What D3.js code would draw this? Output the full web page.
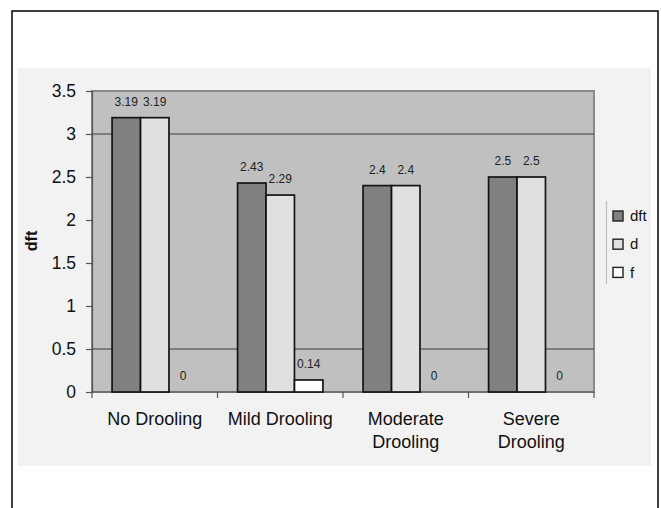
<!DOCTYPE html>
<html>
<head>
<meta charset="utf-8">
<script src="https://cdn.jsdelivr.net/npm/d3@7/dist/d3.min.js"></script>
<style>
  html, body { margin: 0; padding: 0; background: #ffffff; }
  svg { display: block; font-family: "Liberation Sans", Arial, sans-serif; }
</style>
</head>
<body>
<svg id="chart" width="661" height="508"></svg>
<script>
// Drooling severity groups and the three dft index components
const categories = [["No Drooling"], ["Mild Drooling"], ["Moderate", "Drooling"], ["Severe", "Drooling"]];
const seriesNames = ["dft", "d", "f"];
const dftValues = [3.19, 2.43, 2.4, 2.5];
const dValues = [3.19, 2.29, 2.4, 2.5];
const fValues = [0, 0.14, 0, 0];
const yTicks = [0, 0.5, 1, 1.5, 2, 2.5, 3, 3.5];
const gridValues = [0.5, 3];
const seriesColors = ["#808080", "#e0e0e0", "#ffffff"];

const seriesValues = [dftValues, dValues, fValues];
const catKeys = categories.map(c => c.join(" "));

const svg = d3.select("#chart");

// Outer frame and chart area
svg.append("rect").attr("x", 12).attr("y", 11).attr("width", 646).attr("height", 520)
  .attr("fill", "#ffffff").attr("stroke", "#111").attr("stroke-width", 1.6);
svg.append("rect").attr("x", 18).attr("y", 68).attr("width", 633).attr("height", 398)
  .attr("fill", "#f2f2f2");

const plot = { left: 92, right: 594, top: 91, bottom: 392 };

const x0 = d3.scaleBand().domain(catKeys).range([plot.left, plot.right]).paddingInner(0).paddingOuter(0);
const x1 = d3.scaleBand().domain(seriesNames)
  .range([x0.bandwidth() * 0.16, x0.bandwidth() * 0.84]).padding(0);
const y = d3.scaleLinear().domain([0, 3.5]).range([plot.bottom, plot.top]);

// Plot area
svg.append("rect").attr("x", plot.left).attr("y", plot.top)
  .attr("width", plot.right - plot.left).attr("height", plot.bottom - plot.top)
  .attr("fill", "#c0c0c0").attr("stroke", "#8a8a8a").attr("stroke-width", 2);

// Gridlines
svg.append("g").selectAll("line").data(gridValues).join("line")
  .attr("x1", plot.left).attr("x2", plot.right)
  .attr("y1", d => y(d)).attr("y2", d => y(d))
  .attr("stroke", "#3a3a3a").attr("stroke-width", 1.2);

// Y axis
const yAxis = svg.append("g").attr("transform", `translate(${plot.left},0)`)
  .call(d3.axisLeft(y).tickValues(yTicks).tickSize(6).tickPadding(10).tickFormat(d3.format("")));
yAxis.select(".domain").attr("stroke", "#555").attr("stroke-width", 1.2);
yAxis.selectAll(".tick line").attr("stroke", "#555").attr("stroke-width", 1.2);
yAxis.selectAll(".tick text").attr("font-size", 17.5).attr("fill", "#111")
  .attr("font-family", "'Liberation Sans', Arial, sans-serif");

// X axis line with category boundary ticks
svg.append("line").attr("x1", plot.left).attr("x2", plot.right)
  .attr("y1", plot.bottom).attr("y2", plot.bottom)
  .attr("stroke", "#555").attr("stroke-width", 1.2);
const boundaries = catKeys.map(k => x0(k)).concat([x0(catKeys[catKeys.length - 1]) + x0.bandwidth()]);
svg.append("g").selectAll("line").data(boundaries).join("line")
  .attr("x1", d => d).attr("x2", d => d)
  .attr("y1", plot.bottom).attr("y2", plot.bottom + 6)
  .attr("stroke", "#555").attr("stroke-width", 1.2);

// Category labels
const catLabels = svg.append("g").selectAll("text").data(categories).join("text")
  .attr("x", (d, i) => x0(catKeys[i]) + x0.bandwidth() / 2)
  .attr("y", 425)
  .attr("text-anchor", "middle").attr("font-size", 18).attr("fill", "#111");
catLabels.selectAll("tspan").data(d => d).join("tspan")
  .attr("x", function () { return d3.select(this.parentNode).attr("x"); })
  .attr("dy", (d, i) => i === 0 ? 0 : 23)
  .text(d => d);

// Bars
const barData = [];
catKeys.forEach((k, ci) => {
  seriesNames.forEach((s, si) => {
    barData.push({ cat: k, series: s, si, value: seriesValues[si][ci] });
  });
});

const groups = svg.append("g");
groups.selectAll("rect").data(barData.filter(d => d.value > 0)).join("rect")
  .attr("x", d => x0(d.cat) + x1(d.series))
  .attr("y", d => y(d.value))
  .attr("width", x1.bandwidth())
  .attr("height", d => y(0) - y(d.value))
  .attr("fill", d => seriesColors[d.si])
  .attr("stroke", "#141414").attr("stroke-width", 1.7);

// Value labels
groups.selectAll("text").data(barData).join("text")
  .attr("x", d => x0(d.cat) + x1(d.series) + x1.bandwidth() / 2)
  .attr("y", d => y(d.value) - 12)
  .attr("text-anchor", "middle").attr("font-size", 12).attr("fill", "#222")
  .text(d => d.value);

// Y axis title
svg.append("text")
  .attr("transform", "translate(37,241) rotate(-90)")
  .attr("text-anchor", "middle").attr("font-size", 16).attr("font-weight", "bold")
  .attr("fill", "#111").text("dft");

// Legend
svg.append("line").attr("x1", 606.5).attr("x2", 606.5).attr("y1", 201).attr("y2", 284)
  .attr("stroke", "#bdbdbd").attr("stroke-width", 1.2);
const legend = svg.append("g").selectAll("g").data(seriesNames).join("g")
  .attr("transform", (d, i) => `translate(613,${216 + i * 28.2})`);
legend.append("rect").attr("x", 0).attr("y", -5).attr("width", 10).attr("height", 10)
  .attr("fill", (d, i) => seriesColors[i]).attr("stroke", "#222").attr("stroke-width", 1.4);
legend.append("text").attr("x", 17).attr("y", 0).attr("dy", "0.35em")
  .attr("font-size", 15).attr("fill", "#111").text(d => d);
</script>
</body>
</html>
